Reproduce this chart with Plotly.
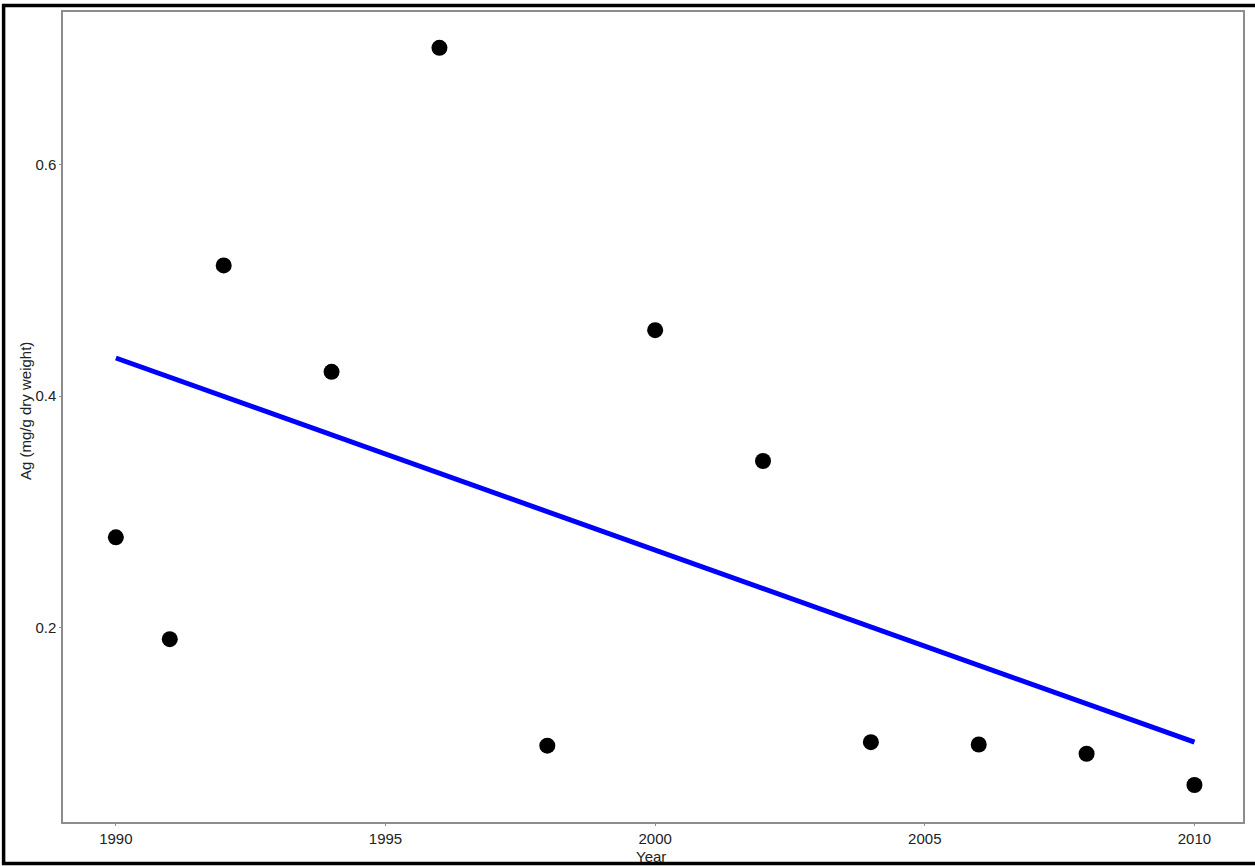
import plotly.graph_objects as go

years = [1990, 1991, 1992, 1994, 1996, 1998, 2000, 2002, 2004, 2006, 2008, 2010]
ag_values = [0.278, 0.190, 0.513, 0.421, 0.701, 0.098, 0.457, 0.344, 0.101, 0.099, 0.091, 0.064]
fit_years = [1990, 2010]
fit_values = [0.433, 0.101]
x_ticks = [1990, 1995, 2000, 2005, 2010]
y_ticks = [0.2, 0.4, 0.6]

W, H = 1255, 866
L, R, T, B = 63, 10, 10, 44
pw, ph = W - L - R, H - T - B

def px(x):
    return (x - L) / pw

def py(y):
    return (H - B - y) / ph

fig = go.Figure()
fig.add_trace(go.Scatter(x=fit_years, y=fit_values, mode="lines",
                         line=dict(color="#0000FF", width=5), hoverinfo="skip"))
fig.add_trace(go.Scatter(x=years, y=ag_values, mode="markers",
                         marker=dict(color="black", size=16)))

axis_common = dict(showline=True, linecolor="#8c8c8c", linewidth=1.5, mirror=True,
                   ticks="outside", ticklen=2, tickcolor="#8c8c8c", showgrid=False,
                   zeroline=False,
                   tickfont=dict(family="Liberation Sans, Arial", size=15, color="#222"))

fig.update_layout(
    width=W, height=H,
    margin=dict(l=L, r=R, t=T, b=B),
    paper_bgcolor="white", plot_bgcolor="white",
    showlegend=False,
    xaxis=dict(range=[1989.02, 2010.9], tickvals=x_ticks, **axis_common),
    yaxis=dict(range=[0.032, 0.732], tickvals=y_ticks, tickformat=".1f", **axis_common),
    annotations=[
        dict(text="Year", xref="paper", yref="paper", x=px(652), y=py(857),
             showarrow=False, xanchor="center", yanchor="middle",
             font=dict(family="Liberation Sans, Arial", size=15, color="#222")),
        dict(text="Ag (mg/g dry weight)", xref="paper", yref="paper", x=px(25), y=py(410),
             showarrow=False, xanchor="center", yanchor="middle", textangle=-90,
             font=dict(family="Liberation Sans, Arial", size=15, color="#222")),
    ],
    shapes=[
        dict(type="rect", xref="paper", yref="paper",
             x0=px(3.5), x1=px(1262), y0=py(3.5), y1=py(863.5),
             line=dict(color="black", width=3.5)),
    ],
)

fig.write_html("out.html", config={"displayModeBar": False},
               post_script="document.body.style.margin='0';document.body.style.overflow='hidden';")
